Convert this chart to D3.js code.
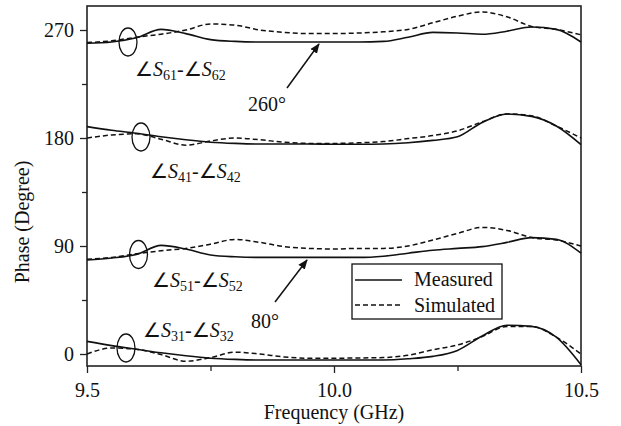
<!DOCTYPE html>
<html>
<head>
<meta charset="utf-8">
<script src="https://cdn.jsdelivr.net/npm/d3@7"></script>
<style>
  body { margin: 0; background: #fff; }
  svg text { font-family: "Liberation Serif", "Times New Roman", serif; fill: #111; }
</style>
</head>
<body>
<svg id="chart" width="621" height="426"></svg>
<script>
// frequency points (GHz)
var freq = [9.50, 9.55, 9.60, 9.65, 9.70, 9.75, 9.80, 9.85, 9.90, 9.95, 10.00,
            10.05, 10.10, 10.15, 10.20, 10.25, 10.30, 10.35, 10.40, 10.45, 10.50];

// phase differences (degree), measured / simulated
var m61 = [259, 260, 263.5, 270.5, 267, 262, 260.5, 260, 260, 260, 260,
           260, 260.5, 264, 268, 267.5, 266.5, 269, 272.5, 270.5, 260];
var s61 = [259.5, 261, 264, 266.5, 270, 275, 274, 270, 268, 267, 267,
           267.5, 268.5, 270.5, 276, 281.5, 285, 281, 273, 270.5, 266];
var m41 = [189.5, 186.5, 184, 181, 178.5, 176.5, 175.5, 175, 175, 175, 174.8,
           174.8, 175, 176, 178, 181, 193, 200, 198, 190, 174.5];
var s41 = [180, 182.5, 183.5, 179, 174, 177.5, 180, 178.5, 176.5, 175.5, 175.5,
           176, 177, 179.5, 182, 186, 193.5, 200, 198.5, 190, 180];
var m51 = [78.3, 80, 83, 90.5, 87.5, 82.5, 81, 80.5, 80.5, 80.5, 80.5,
           80.5, 81.5, 84, 86.5, 88, 89.5, 93, 97, 95.5, 84];
var s51 = [79, 80.5, 83.5, 86, 88, 91.5, 95.5, 93, 89.5, 88, 87.5,
           88, 88, 90, 95, 100.5, 105.5, 103, 97, 95, 90];
var m31 = [10.5, 7, 4, 1, -1.5, -3.5, -4.5, -5, -5, -5, -5,
           -5, -5, -4, -2, 3, 15, 24, 23, 14, -9];
var s31 = [0, 5, 4, -0.5, -6, -3, 1.5, 0, -2.5, -3.5, -3.5,
           -3.3, -3, -1, 3.5, 7.5, 14.5, 23, 23, 14, 0];

var xMajor = [9.5, 10.0, 10.5];
var xMinor = [9.75, 10.25];
var yMajor = [0, 90, 180, 270];
var yMinor = [45, 135, 225];

// port numbers for each pair label
var pairs = [
  {a: "61", b: "62", m: m61, s: s61},
  {a: "41", b: "42", m: m41, s: s41},
  {a: "51", b: "52", m: m51, s: s51},
  {a: "31", b: "32", m: m31, s: s31}
];

const padL = 87, padR = 581, padT = 6, padB = 366;

const svg = d3.select("#chart");

const x = d3.scaleLinear().domain([9.5, 10.5]).range([padL, padR]);
const y = d3.scaleLinear().domain([-10, 290]).range([padB, padT]);

// axes
svg.append("g")
  .attr("transform", `translate(0,${padB})`)
  .call(d3.axisBottom(x).tickValues(xMajor).tickSize(7).tickSizeOuter(0).tickFormat(d3.format(".1f")))
  .call(g => g.select(".domain").remove())
  .call(g => g.selectAll("line").attr("stroke", "#222").attr("stroke-width", 1.3))
  .call(g => g.selectAll("text").attr("font-size", 20).attr("dy", "1.05em").attr("font-family", "Liberation Serif").attr("fill", "#111"));

svg.append("g")
  .attr("transform", `translate(0,${padB})`)
  .call(d3.axisBottom(x).tickValues(xMinor).tickSize(5).tickSizeOuter(0).tickFormat(""))
  .call(g => g.select(".domain").remove())
  .call(g => g.selectAll("line").attr("stroke", "#222").attr("stroke-width", 1.3));

svg.append("g")
  .attr("transform", `translate(${padL},0)`)
  .call(d3.axisLeft(y).tickValues(yMajor).tickSize(7).tickSizeOuter(0))
  .call(g => g.select(".domain").remove())
  .call(g => g.selectAll("line").attr("stroke", "#222").attr("stroke-width", 1.3))
  .call(g => g.selectAll("text").attr("font-size", 20).attr("x", -13).attr("font-family", "Liberation Serif").attr("fill", "#111"));

svg.append("g")
  .attr("transform", `translate(${padL},0)`)
  .call(d3.axisLeft(y).tickValues(yMinor).tickSize(5).tickSizeOuter(0).tickFormat(""))
  .call(g => g.select(".domain").remove())
  .call(g => g.selectAll("line").attr("stroke", "#222").attr("stroke-width", 1.3));

// frame
svg.append("rect")
  .attr("x", padL).attr("y", padT)
  .attr("width", padR - padL).attr("height", padB - padT)
  .attr("fill", "none").attr("stroke", "#222").attr("stroke-width", 1.6);

// axis titles
svg.append("text")
  .attr("x", (padL + padR) / 2).attr("y", 419)
  .attr("text-anchor", "middle").attr("font-size", 20)
  .text("Frequency (GHz)");

svg.append("text")
  .attr("transform", "translate(29,222) rotate(-90)")
  .attr("text-anchor", "middle").attr("font-size", 20)
  .text("Phase (Degree)");

// curves
const line = vals => d3.line()
  .x((d, i) => x(freq[i]))
  .y(d => y(d))
  .curve(d3.curveMonotoneX)(vals);

pairs.forEach(p => {
  svg.append("path").attr("d", line(p.s))
    .attr("fill", "none").attr("stroke", "#111").attr("stroke-width", 1.5)
    .attr("stroke-dasharray", "5,3");
  svg.append("path").attr("d", line(p.m))
    .attr("fill", "none").attr("stroke", "#111").attr("stroke-width", 1.6);
});

// ellipses marking each pair
var ellipses = [[128, 42], [141, 137], [138.5, 254.5], [126, 348]];
ellipses.forEach(e => {
  svg.append("ellipse").attr("cx", e[0]).attr("cy", e[1])
    .attr("rx", 9).attr("ry", 14)
    .attr("fill", "none").attr("stroke", "#111").attr("stroke-width", 1.3);
});

// pair labels
var labelPos = [[135, 76], [150, 178], [152, 287], [143, 337]];
pairs.forEach((p, i) => {
  const t = svg.append("text").attr("x", labelPos[i][0]).attr("y", labelPos[i][1]).attr("font-size", 20);
  t.append("tspan").text("\u2220");
  t.append("tspan").attr("font-style", "italic").text("S");
  t.append("tspan").attr("font-size", 14).attr("dy", 4).text(p.a);
  t.append("tspan").attr("dy", -4).text("-\u2220");
  t.append("tspan").attr("font-style", "italic").text("S");
  t.append("tspan").attr("font-size", 14).attr("dy", 4).text(p.b);
});

// arrows
svg.append("defs").append("marker")
  .attr("id", "head").attr("viewBox", "0 0 10 10")
  .attr("refX", 9).attr("refY", 5)
  .attr("markerWidth", 10).attr("markerHeight", 10)
  .attr("markerUnits", "userSpaceOnUse")
  .attr("orient", "auto")
  .append("path").attr("d", "M0,1 L10,5 L0,9 Z").attr("fill", "#111");

var arrows = [[287, 88, 319, 44], [275, 302, 307, 260]];
arrows.forEach(a => {
  svg.append("line").attr("x1", a[0]).attr("y1", a[1]).attr("x2", a[2]).attr("y2", a[3])
    .attr("stroke", "#111").attr("stroke-width", 1.5).attr("marker-end", "url(#head)");
});

svg.append("text").attr("x", 248).attr("y", 111).attr("font-size", 20).text("260\u00b0");
svg.append("text").attr("x", 251).attr("y", 328).attr("font-size", 20).text("80\u00b0");

// legend
const legend = svg.append("g");
legend.append("rect").attr("x", 352).attr("y", 264).attr("width", 150).attr("height", 55)
  .attr("fill", "#fff").attr("stroke", "#111").attr("stroke-width", 1.3);
legend.append("line").attr("x1", 355).attr("x2", 402).attr("y1", 280).attr("y2", 280)
  .attr("stroke", "#111").attr("stroke-width", 1.6);
legend.append("line").attr("x1", 355).attr("x2", 402).attr("y1", 305).attr("y2", 305)
  .attr("stroke", "#111").attr("stroke-width", 1.5).attr("stroke-dasharray", "5,3");
legend.append("text").attr("x", 414).attr("y", 286).attr("font-size", 20).text("Measured");
legend.append("text").attr("x", 414).attr("y", 312).attr("font-size", 20).text("Simulated");
</script>
</body>
</html>
